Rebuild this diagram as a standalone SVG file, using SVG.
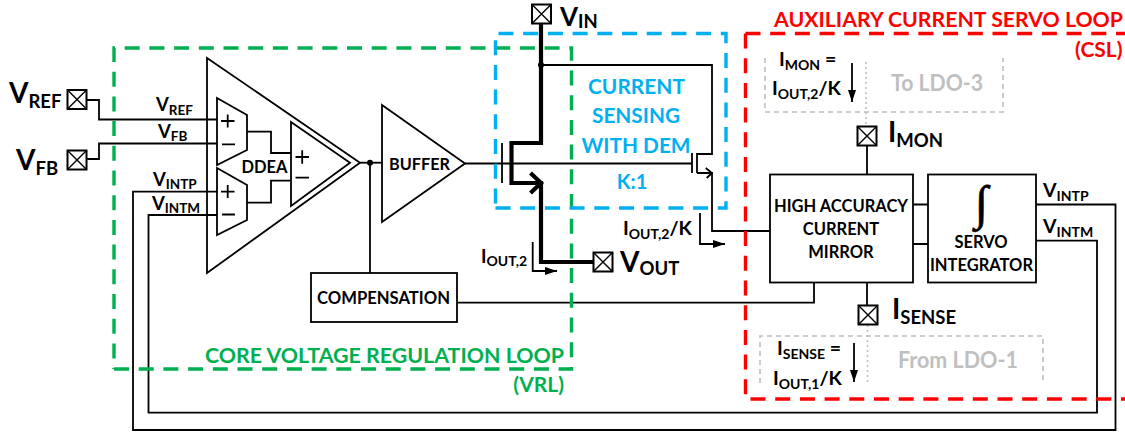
<svg xmlns="http://www.w3.org/2000/svg" width="1125" height="434" viewBox="0 0 1125 434">
<style>
text{font-family:Lato,"Open Sans","Liberation Sans",sans-serif;font-weight:700;fill:#000}
.c{text-anchor:middle}
.e{text-anchor:end}
.w{fill:none;stroke:#000;stroke-width:1.8}
.box{fill:#fff;stroke:#000;stroke-width:1.8}
.thick{fill:none;stroke:#000;stroke-width:4.2}
.pad{fill:#fff;stroke:#000;stroke-width:2}
.g{fill:none;stroke:#00b050;stroke-width:3.4;stroke-dasharray:15 9.7}
.b{fill:none;stroke:#00b0f0;stroke-width:3.4;stroke-dasharray:15 9.7}
.r{fill:none;stroke:#f00;stroke-width:3.4;stroke-dasharray:15 9.7}
.gd{fill:none;stroke:#bfbfbf;stroke-width:1.6;stroke-dasharray:5 4}
.gdot{fill:none;stroke:#bfbfbf;stroke-width:1.6;stroke-dasharray:2 3}
.gt{fill:#bfbfbf;font-size:22px}
.lg{font-size:28px}.lgs{font-size:18.5px}
.sm{font-size:19.5px}.sms{font-size:14px}
.xs{font-size:18.5px}.xss{font-size:13.5px}
.blk{font-size:16.5px}
.cb{fill:#00b0f0;font-size:21px}
.cr{fill:#f00;font-size:21px}
.cg{fill:#00b050;font-size:21px}
</style>
<defs>
<marker id="ah" markerUnits="userSpaceOnUse" markerWidth="13" markerHeight="8" refX="12" refY="4" orient="auto"><path d="M0 0L12 4L0 8Z" fill="#000"/></marker>
<g id="padsym"><rect class="pad" x="-9.500" y="-9.500" width="19" height="19"/><path d="M-9.500-9.500L9.500 9.500M-9.500 9.500L9.500-9.500" stroke="#000" stroke-width="1.400"/></g>
</defs>

<g id="connectors">
<path class="w" d="M87 100H99V119.500H217"/>
<path class="w" d="M87 159H99V143.500H217"/>
<path class="w" d="M1036 204.500H1115.500V430H133V191.700H217"/>
<path class="w" d="M1036 240.700H1097V412.700H148.500V215H217"/>
<path class="w" d="M247 131.700H271V153H291"/>
<path class="w" d="M247 202.700H271V180.700H291"/>
<path class="w" d="M360 162.700H382"/>
<path class="w" d="M370 162.700V273"/>
<path class="w" d="M457 302.700H814V282.700"/>
<path class="w" d="M465 163.500H692"/>
<path class="w" d="M541 65H712V154H697"/>
<path class="w" d="M697 173H712V231H770"/>
<path class="w" d="M705.700 168L712 173L706.700 178"/>
<path class="w" d="M913 204.500H928M913 244H928"/>
<path class="w" d="M867 146V174.500M867 283V305"/>
<path class="thick" d="M541 24V143H511.500V183H541V262H593"/>
<path class="thick" d="M530.500 173L541 183L530.500 193"/>
<circle cx="541" cy="65" r="3" fill="#000"/>
<path class="w" d="M532.700 242V271H557" marker-end="url(#ah)"/>
<path class="w" d="M700 213V244H725" marker-end="url(#ah)"/>
<path class="w" d="M852 63V102" marker-end="url(#ah)"/>
<path class="w" d="M854 343V382" marker-end="url(#ah)"/>
<path class="gdot" d="M866 62V126M867.500 325V385"/>
</g>

<g id="ddea">
<path class="w" d="M207 58L360 162.700L207 273Z"/>
<path class="w" d="M217 98L247 115V150L217 165Z"/>
<path class="w" d="M217 168L247 185V220L217 235Z"/>
<path class="w" d="M291 122L350 162.700L291 206Z"/>
<path class="w" d="M221 121H234.500M227.700 114.500V127.500M222 144.300H235M221 191.700H234.500M227.700 185V198M222 214.500H235"/>
<path class="w" d="M295.500 157H309M302.200 150.300V163.700M295.500 177.700H309"/>
<text class="blk c" x="264.500" y="172.500">DDEA</text>
<circle cx="370" cy="162.700" r="3" fill="#000"/>
</g>

<g id="buffer">
<path class="w" d="M382 105L465 163.500L382 222Z"/>
<text x="389" y="170" font-size="17" textLength="61" lengthAdjust="spacingAndGlyphs">BUFFER</text>
</g>

<g id="compensation">
<rect class="box" x="311" y="273" width="146" height="49"/>
<text x="317" y="304" font-size="16.500" textLength="133" lengthAdjust="spacingAndGlyphs">COMPENSATION</text>
</g>

<g id="mirror">
<rect class="box" x="770" y="174.500" width="143" height="108"/>
<text class="c blk" x="841" y="212">HIGH ACCURACY</text>
<text class="c blk" x="841" y="235">CURRENT</text>
<text class="c blk" x="841" y="258">MIRROR</text>
</g>

<g id="integrator">
<rect class="box" x="928" y="174.500" width="108" height="108"/>
<text class="c" x="981.500" y="218.500" font-size="48" stroke="#000" stroke-width="0.700" style="font-family:'Liberation Serif',serif">∫</text>
<text class="c blk" x="981" y="248">SERVO</text>
<text class="c blk" x="981.500" y="271">INTEGRATOR</text>
</g>

<g id="transistors">
<path class="w" d="M502 143V183M692 153V173"/>
<path class="w" d="M697 153V173"/>
</g>

<g id="pad-vref"><use href="#padsym" x="77" y="99.500"/><text class="lg" x="9" y="103">V<tspan class="lgs" dy="5">REF</tspan></text></g>
<g id="pad-vfb"><use href="#padsym" x="77" y="160"/><text class="lg" x="16" y="170">V<tspan class="lgs" dy="5">FB</tspan></text></g>
<g id="pad-vin"><use href="#padsym" x="541.500" y="14"/><text x="560" y="25.800" style="font-size:26px">V<tspan class="lgs" dy="2">IN</tspan></text></g>
<g id="pad-vout"><use href="#padsym" x="603" y="262"/><text class="lg" x="620" y="271.500">V<tspan class="lgs" dy="3.500">OUT</tspan></text></g>
<g id="pad-imon"><use href="#padsym" x="867" y="136"/><text class="lg" x="888" y="141.500">I<tspan class="lgs" dy="5">MON</tspan></text></g>
<g id="pad-isense"><use href="#padsym" x="868" y="315"/><text class="lg" x="892" y="319">I<tspan class="lgs" dy="5">SENSE</tspan></text></g>

<g id="labels">
<text class="xs" x="156" y="111">V<tspan class="xss" dy="3.500">REF</tspan></text>
<text class="xs" x="158" y="138">V<tspan class="xss" dy="3">FB</tspan></text>
<text class="xs" x="153" y="185.500">V<tspan class="xss" dy="3">INTP</tspan></text>
<text class="xs" x="152" y="210">V<tspan class="xss" dy="3">INTM</tspan></text>
<text class="sm" x="1043" y="196.500">V<tspan class="sms" dy="4">INTP</tspan></text>
<text class="sm" x="1043" y="232.500">V<tspan class="sms" dy="4">INTM</tspan></text>
<text class="xs" x="481" y="262.500">I<tspan class="sms" dy="3">OUT,2</tspan></text>
<text class="sm" x="623" y="235">I<tspan class="sms" dy="4">OUT,2</tspan><tspan dy="-4">/K</tspan></text>
<text class="c cb" x="636.500" y="93.500" textLength="97" lengthAdjust="spacingAndGlyphs">CURRENT</text>
<text class="c cb" x="636" y="122.500" textLength="88" lengthAdjust="spacingAndGlyphs">SENSING</text>
<text class="c cb" x="636" y="152.500" textLength="109" lengthAdjust="spacingAndGlyphs">WITH DEM</text>
<text class="c cb" x="632" y="189" style="font-size:20px">K:1</text>
<text class="cr" x="774" y="27" textLength="349" lengthAdjust="spacingAndGlyphs">AUXILIARY CURRENT SERVO LOOP</text>
<text class="e cr" x="1122.500" y="56.500">(CSL)</text>
<text class="cg" x="205" y="362.500" textLength="359" lengthAdjust="spacingAndGlyphs">CORE VOLTAGE REGULATION LOOP</text>
<text class="e cg" x="564" y="391.500">(VRL)</text>
<text class="sm" x="779" y="66">I<tspan class="sms" dy="3.500">MON</tspan><tspan dy="-3.500"> =</tspan></text>
<text class="sm" x="772" y="95">I<tspan class="sms" dy="3.500">OUT,2</tspan><tspan dy="-3.500">/K</tspan></text>
<text class="sm" x="777" y="355">I<tspan class="sms" dy="3.500">SENSE</tspan><tspan dy="-3.500"> =</tspan></text>
<text class="sm" x="773" y="385">I<tspan class="sms" dy="3.500">OUT,1</tspan><tspan dy="-3.500">/K</tspan></text>
<text class="gt" x="891" y="90.500" textLength="92" lengthAdjust="spacingAndGlyphs">To LDO-3</text>
<text class="gt" x="898" y="367.500" textLength="120" lengthAdjust="spacingAndGlyphs">From LDO-1</text>
</g>

<g id="ldo3-box"><path class="gd" d="M765 58V112H1003V58"/></g>
<g id="ldo1-box"><path class="gd" d="M760 383V336H1043V383"/></g>

<g id="loops">
<path id="vrl" class="g" d="M114 369H571.500V48H114V369"/>
<path id="cs" class="b" d="M495.500 208H726V33.500H495.500V208"/>
<path id="csl" class="r" d="M745.500 33.500V399H1125M745.500 33.500H1125"/>
</g>
</svg>
